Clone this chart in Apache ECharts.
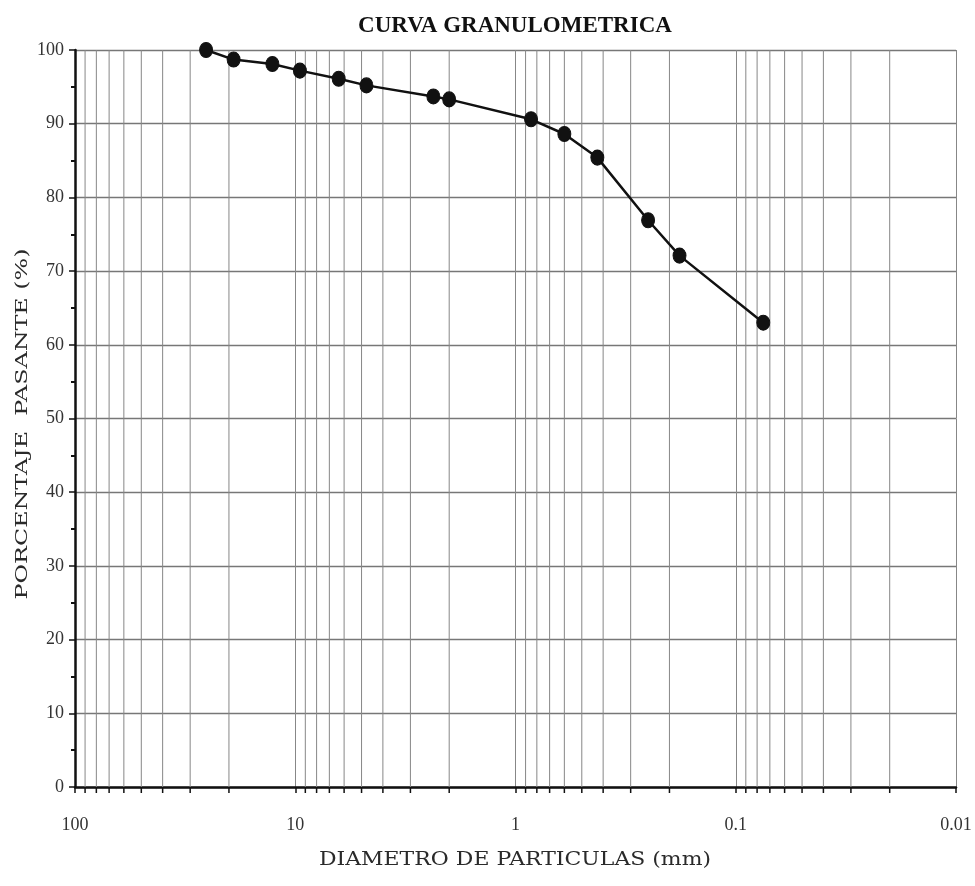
<!DOCTYPE html>
<html>
<head>
<meta charset="utf-8">
<title>Curva granulometrica</title>
<script src="https://cdn.jsdelivr.net/npm/echarts@6/dist/echarts.min.js"></script>
<style>
  html, body { margin: 0; padding: 0; background: #ffffff; }
  #chart { width: 975px; height: 886px; }
</style>
</head>
<body>
<div id="chart"></div>
<script>
// Sieve openings (mm) and cumulative percentage passing
const diametros = [25.4, 19.05, 12.7, 9.525, 6.35, 4.75, 2.36, 2.0, 0.85, 0.6, 0.425, 0.25, 0.18, 0.075];
const pasante   = [100, 98.7, 98.1, 97.2, 96.1, 95.2, 93.7, 93.3, 90.6, 88.6, 85.4, 76.9, 72.1, 63.0];

// Labelled decades on the diameter axis
const decadeLabels = [100, 10, 1, 0.1, 0.01];

// Intermediate log-grid lines (2..9 within each decade)
const minorTickValues = [
  0.02, 0.03, 0.04, 0.05, 0.06, 0.07, 0.08, 0.09,
  0.2, 0.3, 0.4, 0.5, 0.6, 0.7, 0.8, 0.9,
  2, 3, 4, 5, 6, 7, 8, 9,
  20, 30, 40, 50, 60, 70, 80, 90
];

const serif = '"Liberation Serif", "DejaVu Serif", serif';
const wideSerif = '"DejaVu Serif", "Liberation Serif", serif';
const gridGray = '#878787';

const chart = echarts.init(document.getElementById('chart'), null, { renderer: 'canvas' });

const curve = diametros.map((d, i) => [d, pasante[i]]);

chart.setOption({
  backgroundColor: '#ffffff',
  animation: false,
  title: {
    text: 'CURVA GRANULOMETRICA',
    left: 510,
    textAlign: 'center',
    top: 10,
    textStyle: { fontFamily: serif, fontSize: 23, fontWeight: 'bold', color: '#111' }
  },
  // axis titles, drawn in a wide lettering
  graphic: [
    {
      type: 'text',
      x: 515,
      y: 860,
      scaleX: 1.22,
      silent: true,
      style: {
        text: 'DIAMETRO DE PARTICULAS (mm)',
        fontFamily: wideSerif,
        fontSize: 18,
        fill: '#2a2a2a',
        align: 'center',
        verticalAlign: 'middle'
      }
    },
    {
      type: 'text',
      x: 22,
      y: 424,
      rotation: Math.PI / 2,
      scaleX: 1.36,
      silent: true,
      style: {
        text: 'PORCENTAJE  PASANTE (%)',
        fontFamily: wideSerif,
        fontSize: 17.5,
        fill: '#2a2a2a',
        align: 'center',
        verticalAlign: 'middle'
      }
    }
  ],
  grid: { left: 75, right: 19, top: 50, bottom: 99 },
  xAxis: {
    type: 'log',
    logBase: 10,
    min: 0.01,
    max: 100,
    inverse: true,
    axisLine: { show: true, onZero: false, lineStyle: { color: '#111', width: 2.5 } },
    axisTick: { show: true, length: 6, lineStyle: { color: '#111', width: 1.5 } },
    axisLabel: {
      margin: 29,
      fontFamily: serif,
      fontSize: 18,
      color: '#333',
      formatter: v => {
        const hit = decadeLabels.find(d => Math.abs(d - v) / d < 1e-6);
        return hit === undefined ? '' : String(hit);
      }
    },
    splitLine: { show: true, lineStyle: { color: gridGray, width: 1 } }
  },
  yAxis: {
    type: 'value',
    min: 0,
    max: 100,
    interval: 10,
    axisLine: { show: true, lineStyle: { color: '#111', width: 2.5 } },
    axisTick: { show: true, length: 6, lineStyle: { color: '#111', width: 1.5 } },
    minorTick: { show: true, splitNumber: 2, length: 4, lineStyle: { color: '#111', width: 2 } },
    axisLabel: { margin: 11, fontFamily: serif, fontSize: 18, color: '#333' },
    splitLine: { show: true, lineStyle: { color: '#777', width: 1.3 } }
  },
  series: [
    {
      // intermediate vertical grid lines with their ticks below the axis
      type: 'custom',
      silent: true,
      clip: false,
      z: 1,
      data: minorTickValues.map(v => [v, 0]),
      encode: { x: 0, y: 1 },
      renderItem: (params, api) => {
        const x = api.value(0);
        const top = api.coord([x, 100]);
        const bot = api.coord([x, 0]);
        return {
          type: 'group',
          children: [
            { type: 'line', shape: { x1: top[0], y1: top[1], x2: bot[0], y2: bot[1] },
              style: { stroke: gridGray, lineWidth: 1 } },
            { type: 'line', shape: { x1: bot[0], y1: bot[1], x2: bot[0], y2: bot[1] + 6 },
              style: { stroke: '#111', lineWidth: 1.5 } }
          ]
        };
      }
    },
    {
      type: 'line',
      z: 5,
      data: curve,
      symbol: 'circle',
      symbolSize: [13, 15],
      lineStyle: { color: '#111', width: 2.5 },
      itemStyle: { color: '#111', borderColor: '#111' }
    }
  ]
});
</script>
</body>
</html>
